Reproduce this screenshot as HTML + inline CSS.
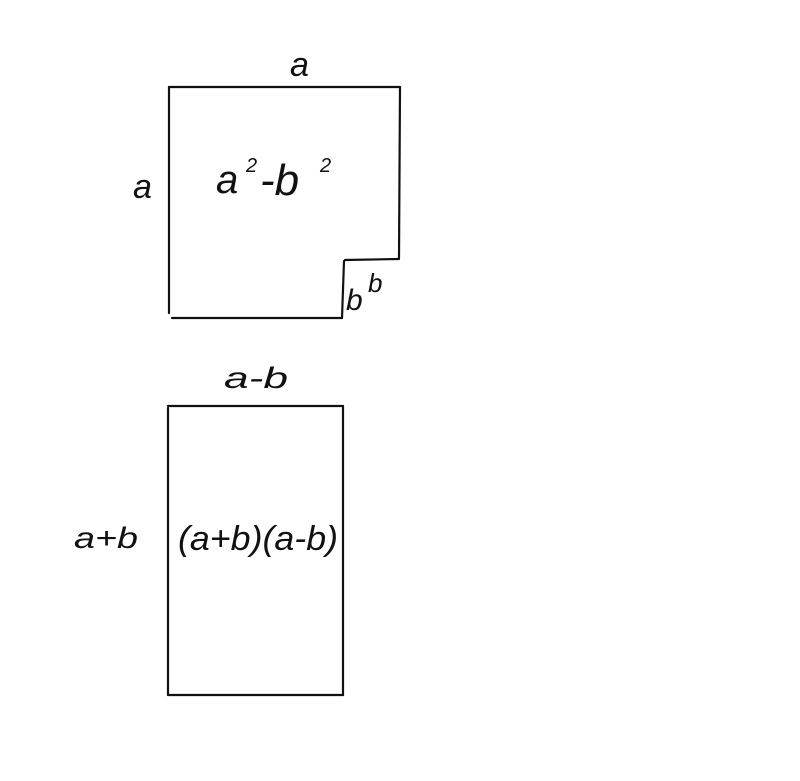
<!DOCTYPE html>
<html><head><meta charset="utf-8"><style>html,body{margin:0;padding:0;background:#fff}svg{display:block}</style></head>
<body>
<svg width="800" height="781" viewBox="0 0 800 781" xmlns="http://www.w3.org/2000/svg">
<g stroke="#111" stroke-width="2.2" fill="none" stroke-linecap="round">
<line x1="169" y1="87" x2="400" y2="87"/>
<line x1="400" y1="87" x2="399" y2="258"/>
<line x1="345" y1="260" x2="399" y2="259"/>
<line x1="344" y1="261" x2="342" y2="318"/>
<line x1="172" y1="318" x2="342" y2="318"/>
<line x1="169" y1="87" x2="169" y2="313"/>
<line x1="168" y1="406" x2="343" y2="406"/>
<line x1="343" y1="406" x2="343" y2="695"/>
<line x1="168" y1="695" x2="343" y2="695"/>
<line x1="168" y1="408" x2="168" y2="695"/>
</g>
<g font-family="Liberation Sans, sans-serif" font-style="italic" fill="#111">
<text x="290" y="76" font-size="34">a</text>
<text x="133" y="198" font-size="34">a</text>
<text x="216" y="193" font-size="40">a</text>
<text x="246" y="172" font-size="20">2</text>
<text x="260" y="195" font-size="44">-b</text>
<text x="320" y="172" font-size="20">2</text>
<text x="346" y="310" font-size="30">b</text>
<text x="368" y="292" font-size="26">b</text>
<text x="224" y="388" font-size="30" textLength="64" lengthAdjust="spacingAndGlyphs">a-b</text>
<text x="74" y="548" font-size="30" textLength="64" lengthAdjust="spacingAndGlyphs">a+b</text>
<text x="178" y="550" font-size="34" textLength="160" lengthAdjust="spacingAndGlyphs">(a+b)(a-b)</text>
</g>
</svg>
</body></html>
